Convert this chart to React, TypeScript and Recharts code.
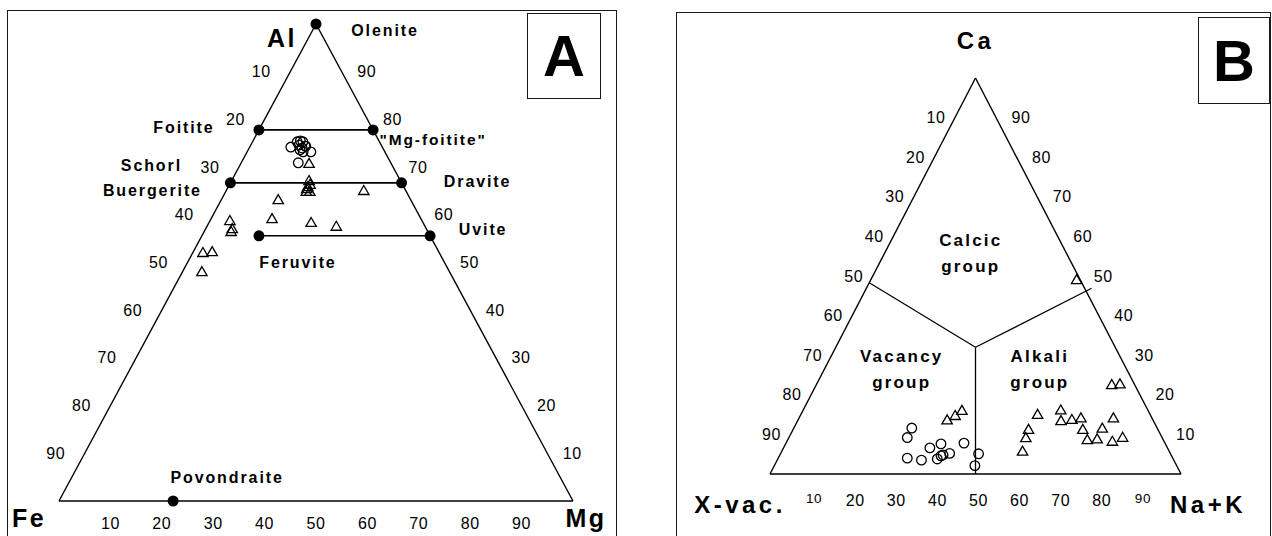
import React from 'react';
import { ScatterChart, Scatter, XAxis, YAxis, ReferenceLine } from 'recharts';

const FONT = '"Liberation Sans", Arial, Helvetica, sans-serif';

// ---------- Panel A: Al - Fe(tot) - Mg, in %, Fe = 100 - Al - Mg ----------
const cornersA = [
  { name: 'Al', al: 100, mg: 0 },
  { name: 'Fe', al: 0, mg: 0 },
  { name: 'Mg', al: 0, mg: 100 },
];
const endmembersA = [
  { name: 'Olenite', al: 100, mg: 0 },
  { name: 'Foitite', al: 77.8, mg: 0 },
  { name: '"Mg-foitite"', al: 77.8, mg: 22.2 },
  { name: 'Schorl', al: 66.7, mg: 0 },
  { name: 'Dravite', al: 66.7, mg: 33.3 },
  { name: 'Feruvite', al: 55.6, mg: 11.1 },
  { name: 'Uvite', al: 55.6, mg: 44.4 },
  { name: 'Povondraite', al: 0, mg: 22.2 },
];
const namesOnlyA = [{ name: 'Buergerite', al: 66.7, mg: 0 }];
const tieLinesA = [
  ['Foitite', '"Mg-foitite"'],
  ['Schorl', 'Dravite'],
  ['Feruvite', 'Uvite'],
];
// [Al, Mg]
const circlesA = [
  [74.2, 8.0], [75.3, 8.7], [75.5, 9.2], [75.3, 9.8], [74.6, 9.4], [74.0, 10.3],
  [74.4, 10.8], [73.2, 12.4], [73.2, 10.9], [73.6, 10.1], [70.9, 11.1], [74.4, 10.7],
];
const trianglesA = [
  [70.9, 13.2], [67.3, 15.0], [66.5, 15.6], [66.0, 15.4], [65.6, 15.4], [65.0, 15.6],
  [65.0, 16.3], [65.2, 26.7], [63.3, 11.0], [59.3, 11.8], [58.5, 19.8], [57.7, 25.1],
  [58.9, 3.8], [57.2, 5.1], [56.6, 5.2], [52.2, 1.9], [52.4, 3.6], [48.2, 3.7],
];

// ---------- Panel B: Ca - X-vacancy - Na+K, in %, vac = 100 - Ca - NaK ----------
const cornersB = [
  { name: 'Ca', ca: 100, nak: 0 },
  { name: 'X-vac.', ca: 0, nak: 0 },
  { name: 'Na+K', ca: 0, nak: 100 },
];
const fieldNamesB = [
  { name: ['Calcic', 'group'], ca: 55.7, nak: 21.0 },
  { name: ['Vacancy', 'group'], ca: 26.3, nak: 18.9 },
  { name: ['Alkali', 'group'], ca: 26.3, nak: 52.5 },
];
const fieldJunctionB = { ca: 32, nak: 34 };
const fieldEndsB = [
  { ca: 48.3, nak: 0 },
  { ca: 46.9, nak: 54.8 },
  { ca: 0, nak: 50 },
];
// [Ca, Na+K]
const circlesB = [
  [11.6, 28.7], [9.2, 28.8], [6.6, 35.6], [7.6, 37.8], [4.0, 31.4], [3.5, 35.1], [3.8, 38.8],
  [4.6, 39.3], [4.8, 39.7], [5.2, 41.1], [7.8, 43.3], [5.1, 48.2], [2.1, 48.8],
];
const trianglesB = [
  [13.8, 36.2], [14.9, 37.6], [16.2, 38.6], [15.2, 57.5], [16.3, 62.6], [13.6, 64.0],
  [13.9, 66.5], [14.3, 68.5], [14.3, 76.4], [11.4, 57.2], [9.3, 57.6], [5.9, 58.5],
  [11.4, 70.4], [8.8, 72.8], [9.0, 75.1], [11.7, 75.0], [8.4, 79.1], [9.4, 81.1],
  [22.7, 71.8], [22.9, 73.7], [49.2, 50.0],
];

const edgeTicks = [10, 20, 30, 40, 50, 60, 70, 80, 90];

// ---------- layout (pixel offsets of labels) ----------
const nameOffsetA: Record<string, [number, number]> = {
  Olenite: [69, 6],
  Foitite: [-75, -2],
  '"Mg-foitite"': [60, 10],
  Schorl: [-79, -17],
  Buergerite: [-78, 8],
  Dravite: [76, -1],
  Feruvite: [39, 27],
  Uvite: [53, -6],
  Povondraite: [54, -24],
};
const cornerOffset: Record<string, [number, number]> = {
  Al: [-34, 14],
  Fe: [-30, 17],
  Mg: [13, 17],
  Ca: [0, -38],
  'X-vac.': [-30, 30],
  'Na+K': [27, 30],
};
const tickOffsetA = { left: [-29, 0], right: [25, 0], bottom: [0, 22] };
const tickOffsetB = { left: [-19, 0], right: [25, 0], bottom: [3, 26] };

// ternary (top, right) -> cartesian in 0..100 units
const tern = (top: number, right: number) => ({ x: right + top / 2, y: top });

const buildTicks = (off: any, smallEnds: boolean) =>
  edgeTicks.flatMap((t) => [
    { ...tern(100 - t, 0), label: String(t), dx: off.left[0], dy: off.left[1], fs: 16 },
    { ...tern(t, 100 - t), label: String(t), dx: off.right[0], dy: off.right[1], fs: 16 },
    {
      ...tern(0, t),
      label: String(t),
      dx: off.bottom[0],
      dy: off.bottom[1] - (smallEnds && (t === 10 || t === 90) ? 2 : 0),
      fs: smallEnds && (t === 10 || t === 90) ? 13.5 : 16,
    },
  ]);

const Ring = (p: any) => (
  <circle cx={p.cx} cy={p.cy} r={4.8} fill="none" stroke="#000" strokeWidth={1.3} />
);
const Tri = (p: any) => (
  <path
    d={`M${p.cx},${p.cy - 4.5}L${p.cx + 5.2},${p.cy + 4.5}L${p.cx - 5.2},${p.cy + 4.5}Z`}
    fill="none"
    stroke="#000"
    strokeWidth={1.3}
  />
);
const Dot = (p: any) => <circle cx={p.cx} cy={p.cy} r={5.5} fill="#000" />;

const textShape = (size: number, weight: string, spacing: number) => (p: any) => (
  <text
    x={p.cx + p.payload.dx}
    y={p.cy + p.payload.dy}
    textAnchor="middle"
    dominantBaseline="central"
    fontFamily={FONT}
    fontSize={p.payload.fs || size}
    fontWeight={weight}
    letterSpacing={spacing}
    fill="#000"
  >
    {p.payload.label}
  </text>
);

const twoLineShape = (p: any) => (
  <g>
    {p.payload.lines.map((l: string, i: number) => (
      <text
        key={l}
        x={p.cx}
        y={p.cy + (i - 0.5) * 26}
        textAnchor="middle"
        dominantBaseline="central"
        fontFamily={FONT}
        fontSize={17}
        fontWeight="bold"
        letterSpacing={2.2}
        fill="#000"
      >
        {l}
      </text>
    ))}
  </g>
);

const Edges = ({ corners }: { corners: { x: number; y: number }[] }) => (
  <>
    {corners.map((c, i) => {
      const n = corners[(i + 1) % corners.length];
      return (
        <ReferenceLine
          key={'e' + i}
          segment={[{ x: c.x, y: c.y }, { x: n.x, y: n.y }]}
          stroke="#000"
          strokeWidth={1.4}
          ifOverflow="visible"
        />
      );
    })}
  </>
);

const axes = [
  <XAxis key="x" type="number" dataKey="x" domain={[0, 100]} hide />,
  <YAxis key="y" type="number" dataKey="y" domain={[0, 100]} hide />,
];

const PanelA = () => {
  const pos = (name: string) => {
    const e = endmembersA.find((m) => m.name === name)!;
    return tern(e.al, e.mg);
  };
  const corners = cornersA.map((c) => ({ ...tern(c.al, c.mg), label: c.name, dx: cornerOffset[c.name][0], dy: cornerOffset[c.name][1] }));
  const names = [...endmembersA, ...namesOnlyA].map((m) => ({
    ...tern(m.al, m.mg),
    label: m.name,
    dx: nameOffsetA[m.name][0],
    dy: nameOffsetA[m.name][1],
    fs: m.name === '"Mg-foitite"' ? 15.5 : 16,
  }));
  return (
    <ScatterChart width={640} height={536} margin={{ top: 24, right: 67, bottom: 35, left: 59 }}>
      {axes}
      <Edges corners={corners} />
      {tieLinesA.map(([a, b]) => (
        <ReferenceLine key={a} segment={[pos(a), pos(b)]} stroke="#000" strokeWidth={1.6} ifOverflow="visible" />
      ))}
      <Scatter data={endmembersA.map((m) => tern(m.al, m.mg))} shape={Dot} isAnimationActive={false} />
      <Scatter data={circlesA.map(([al, mg]) => tern(al, mg))} shape={Ring} isAnimationActive={false} />
      <Scatter data={trianglesA.map(([al, mg]) => tern(al, mg))} shape={Tri} isAnimationActive={false} />
      <Scatter data={buildTicks(tickOffsetA, false)} shape={textShape(16, 'normal', 0.6)} isAnimationActive={false} />
      <Scatter data={names} shape={textShape(16, 'bold', 1.9)} isAnimationActive={false} />
      <Scatter data={corners} shape={textShape(25, 'bold', 2.5)} isAnimationActive={false} />
    </ScatterChart>
  );
};

const PanelB = () => {
  const corners = cornersB.map((c) => ({ ...tern(c.ca, c.nak), label: c.name, dx: cornerOffset[c.name][0], dy: cornerOffset[c.name][1] }));
  const j = tern(fieldJunctionB.ca, fieldJunctionB.nak);
  return (
    <ScatterChart width={632} height={536} margin={{ top: 78, right: 91, bottom: 62, left: 130 }}>
      {axes}
      <Edges corners={corners} />
      {fieldEndsB.map((e, i) => (
        <ReferenceLine key={'f' + i} segment={[j, tern(e.ca, e.nak)]} stroke="#000" strokeWidth={1.3} ifOverflow="visible" />
      ))}
      <Scatter data={circlesB.map(([ca, nak]) => tern(ca, nak))} shape={Ring} isAnimationActive={false} />
      <Scatter data={trianglesB.map(([ca, nak]) => tern(ca, nak))} shape={Tri} isAnimationActive={false} />
      <Scatter data={buildTicks(tickOffsetB, true)} shape={textShape(16, 'normal', 0.6)} isAnimationActive={false} />
      <Scatter data={fieldNamesB.map((f) => ({ ...tern(f.ca, f.nak), lines: f.name }))} shape={twoLineShape} isAnimationActive={false} />
      <Scatter data={corners} shape={textShape(24, 'bold', 3.5)} isAnimationActive={false} />
    </ScatterChart>
  );
};

const frame = (left: number, top: number, width: number, height: number): React.CSSProperties => ({
  position: 'absolute',
  left,
  top,
  width,
  height,
  border: '1.5px solid #1a1a1a',
  boxSizing: 'border-box',
});

const letterBox = (left: number, top: number, width: number, height: number): React.CSSProperties => ({
  ...frame(left, top, width, height),
  display: 'flex',
  alignItems: 'center',
  justifyContent: 'center',
  fontFamily: FONT,
  fontWeight: 'bold',
  fontSize: 58,
  lineHeight: 1,
  color: '#000',
});

export default function App() {
  return (
    <div style={{ position: 'absolute', left: 0, top: 0, width: 1272, height: 536, overflow: 'hidden', background: '#fff' }}>
      <div style={frame(7, 10, 610, 600)} />
      <div style={frame(676, 12, 595, 600)} />
      <div style={{ position: 'absolute', left: 0, top: 0 }}>
        <PanelA />
      </div>
      <div style={{ position: 'absolute', left: 640, top: 0 }}>
        <PanelB />
      </div>
      <div style={letterBox(527, 13, 74, 86)}>A</div>
      <div style={letterBox(1198, 17, 72, 87)}>B</div>
    </div>
  );
}
